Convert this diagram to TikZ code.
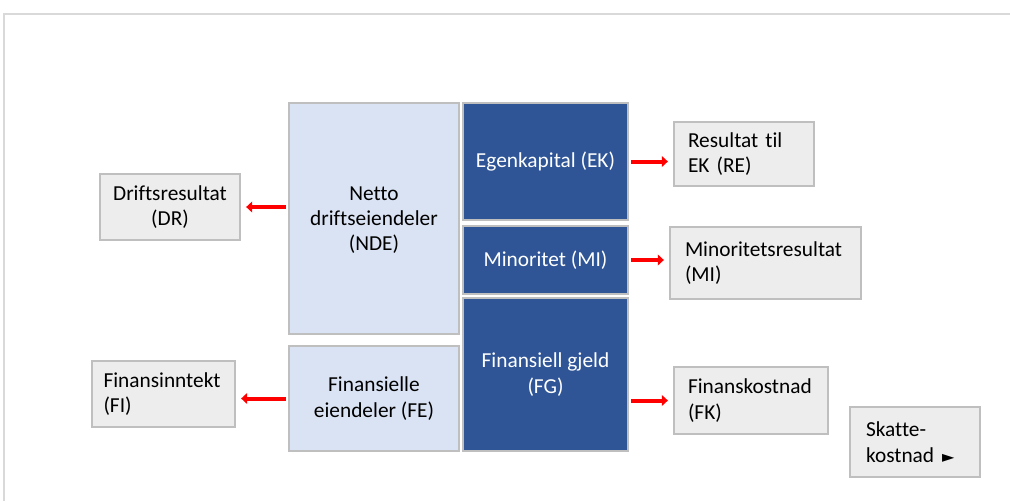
\documentclass[tikz,border=0pt]{standalone}
\usepackage{fontspec}
\setmainfont{Carlito}[RawFeature={-liga;-clig}]
\newfontfamily\symfont{DejaVu Sans}
\usepackage{xcolor}
\usetikzlibrary{calc, positioning, arrows.meta}
\definecolor{framegray}{HTML}{D9D9D9}
\definecolor{edgegray}{HTML}{BFBFBF}
\definecolor{boxgray}{HTML}{EDEDED}
\definecolor{assetblue}{HTML}{DAE3F3}
\definecolor{claimblue}{HTML}{2F5597}
\tikzset{
    resbox/.style={rectangle, draw=edgegray, line width=1.2pt, fill=boxgray, inner sep=0pt, font=\fontsize{16}{19}\selectfont},
    assetbox/.style={rectangle, draw=edgegray, line width=1.2pt, fill=assetblue, align=center, inner sep=0pt, font=\fontsize{16}{19}\selectfont},
    claimbox/.style={rectangle, draw=edgegray, line width=1.2pt, fill=claimblue, text=white, align=center, inner sep=0pt, font=\fontsize{16}{19}\selectfont},
    flow/.style={-{Triangle[length=4.5pt, width=8pt]}, draw=red, line width=3pt, shorten >=4pt, shorten <=2pt}
}

\begin{document}
\begin{tikzpicture}[x=0.75pt, y=-0.75pt]
    \useasboundingbox (0,0) rectangle (1010,501);
    % Frame
    \draw[framegray, line width=1pt] (4,501) -- (4,14) -- (1010,14);

    % Balance (assets and claims)
    \node[assetbox, minimum width=127.5pt, minimum height=173.25pt, text depth=-3pt] (nde) at (374,218.5) {Netto\\driftseiendeler\\(NDE)};
    \node[assetbox, minimum width=127.5pt, minimum height=78.75pt] (fe) at (374,398.5) {Finansielle\\eiendeler (FE)};
    \node[claimbox, minimum width=123.75pt, minimum height=87.75pt] (ek) at (545.5,161.5) {Egenkapital (EK)};
    \node[claimbox, minimum width=123.75pt, minimum height=51pt] (mi) at (545.5,260) {Minoritet (MI)};
    \node[claimbox, minimum width=123.75pt, minimum height=114.75pt] (fg) at (545.5,374.5) {Finansiell gjeld\\(FG)};

    % Result items
    \node[resbox, align=center, minimum width=105pt, minimum height=49.5pt] (dr) at (170,207) {Driftsresultat\\(DR)};
    \node[resbox, align=left, minimum width=107.25pt, minimum height=49.5pt, text width=90pt] (fi) at (163.5,394) {Finansinntekt\\(FI)};
    \node[resbox, align=left, minimum width=105pt, minimum height=48pt, text width=84pt] (re) at (744,154) {Resultat til\\EK (RE)};
    \node[resbox, align=left, minimum width=143.25pt, minimum height=54pt, text width=120.75pt] (mir) at (765.5,263) {Minoritetsresultat\\(MI)};
    \node[resbox, align=left, minimum width=115.5pt, minimum height=50.25pt, text width=94.5pt] (fk) at (751,400.5) {Finanskostnad\\(FK)};
    \node[resbox, align=left, minimum width=97.5pt, minimum height=52.5pt, text width=73.5pt] (skatt) at (915,442) {Skatte-\\kostnad\hspace{6pt}{\symfont\fontsize{12}{12}\selectfont ►}};

    % Flows
    \draw[flow] (nde.west |- dr.east) -- (dr.east);
    \draw[flow] (fe.west) -- (fe.west -| fi.east);
    \draw[flow] (ek.east) -- (ek.east -| re.west);
    \draw[flow] (mi.east) -- (mi.east -| mir.west);
    \draw[flow] (fk.west -| fg.east) -- (fk.west);
\end{tikzpicture}
\end{document}
